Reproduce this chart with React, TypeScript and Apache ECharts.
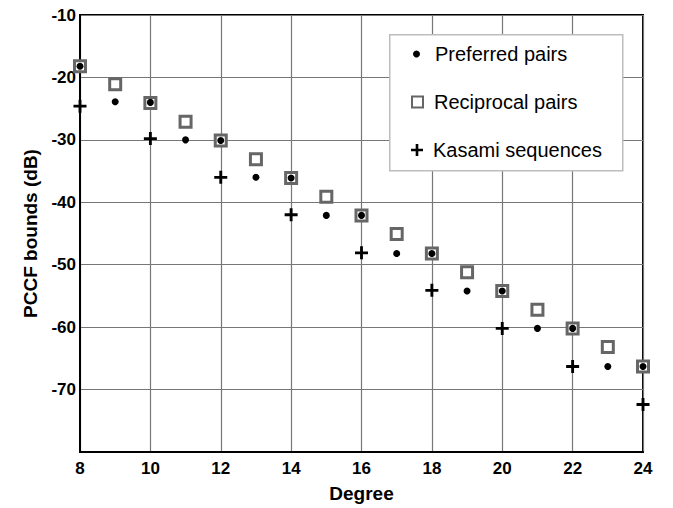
import React, { useEffect, useRef } from "react";
import * as echarts from "echarts";

const degrees = [8, 9, 10, 11, 12, 13, 14, 15, 16, 17, 18, 19, 20, 21, 22, 23, 24];
const preferredPairs = [-18.2, -23.9, -24.0, -30.0, -30.1, -36.0, -36.1, -42.1, -42.1, -48.2, -48.2, -54.2, -54.2, -60.2, -60.2, -66.3, -66.3];
const reciprocalPairs = [-18.2, -21.1, -24.1, -27.1, -30.1, -33.1, -36.1, -39.1, -42.1, -45.1, -48.2, -51.2, -54.2, -57.2, -60.2, -63.2, -66.3];
const kasamiDegrees = [8, 10, 12, 14, 16, 18, 20, 22, 24];
const kasamiSequences = [-24.6, -29.8, -36.0, -42.0, -48.1, -54.1, -60.2, -66.3, -72.4];
const seriesNames = ["Preferred pairs", "Reciprocal pairs", "Kasami sequences"];

const plusPath = "path://M3.9,0H6.1V3.9H10V6.1H6.1V10H3.9V6.1H0V3.9H3.9Z";
const FONT = "Liberation Sans, Arial, sans-serif";

export default function App() {
  const ref = useRef<HTMLDivElement>(null);
  useEffect(() => {
    if (!ref.current) return;
    const chart = echarts.init(ref.current, null, { renderer: "svg" });
    const legendBase = {
      orient: "vertical" as const,
      itemGap: 0,
      z: 10,
      textStyle: { fontFamily: FONT, fontSize: 20, color: "#000" },
      selectedMode: false,
    };
    chart.setOption({
      animation: false,
      backgroundColor: "#fff",
      grid: {
        left: 80,
        right: 30,
        top: 15,
        bottom: 50,
        show: true,
        borderColor: "#000",
        borderWidth: 2,
        backgroundColor: "transparent",
      },
      legend: [
        {
          ...legendBase,
          top: 39,
          left: 408,
          itemWidth: 7,
          itemHeight: 7,
          textStyle: { ...legendBase.textStyle, padding: [0, 0, 0, 10] },
          data: [seriesNames[0]],
        },
        {
          ...legendBase,
          top: 87,
          left: 406,
          itemWidth: 11,
          itemHeight: 11,
          textStyle: { ...legendBase.textStyle, padding: [0, 0, 0, 6] },
          data: [seriesNames[1]],
        },
        {
          ...legendBase,
          top: 135,
          left: 406,
          itemWidth: 12,
          itemHeight: 12,
          textStyle: { ...legendBase.textStyle, padding: [0, 0, 0, 5] },
          data: [seriesNames[2]],
        },
      ],
      graphic: [
        {
          type: "rect",
          left: 389,
          top: 34,
          shape: { width: 233, height: 136 },
          style: { fill: "#fff", stroke: "#bdbdbd", lineWidth: 1.5 },
          z: 5,
        },
      ],
      xAxis: {
        type: "value",
        min: 8,
        max: 24,
        interval: 2,
        name: "Degree",
        nameLocation: "middle",
        nameGap: 32,
        nameTextStyle: { fontFamily: FONT, fontSize: 19, fontWeight: "bold", color: "#000" },
        axisLine: { show: true, lineStyle: { color: "#000", width: 2 } },
        axisTick: { show: false },
        axisLabel: { fontFamily: FONT, fontSize: 17, fontWeight: "bold", color: "#000", margin: 8 },
        splitLine: { show: true, lineStyle: { color: "#777", width: 1.2 } },
      },
      yAxis: {
        type: "value",
        min: -80,
        max: -10,
        interval: 10,
        name: "PCCF bounds (dB)",
        nameLocation: "middle",
        nameGap: 40,
        nameRotate: 90,
        nameTextStyle: { fontFamily: FONT, fontSize: 19, fontWeight: "bold", color: "#000" },
        axisLine: { show: true, lineStyle: { color: "#000", width: 2 } },
        axisTick: { show: false },
        axisLabel: {
          fontFamily: FONT,
          fontSize: 17,
          fontWeight: "bold",
          color: "#000",
          margin: 4,
          formatter: (v: number) => (v === -80 ? "" : String(v)),
        },
        splitLine: { show: true, lineStyle: { color: "#777", width: 1.2 } },
      },
      series: [
        {
          name: seriesNames[1],
          type: "scatter",
          symbol: "rect",
          symbolSize: 11,
          itemStyle: { color: "#fff", borderColor: "#666", borderWidth: 3, opacity: 1 },
          data: degrees.map((d, i) => [d, reciprocalPairs[i]]),
          z: 2,
        },
        {
          name: seriesNames[0],
          type: "scatter",
          symbol: "circle",
          symbolSize: 7,
          itemStyle: { color: "#000", opacity: 1 },
          data: degrees.map((d, i) => [d, preferredPairs[i]]),
          z: 3,
        },
        {
          name: seriesNames[2],
          type: "scatter",
          symbol: plusPath,
          symbolSize: 13,
          itemStyle: { color: "#000", opacity: 1 },
          data: kasamiDegrees.map((d, i) => [d, kasamiSequences[i]]),
          z: 3,
        },
      ],
    });
    return () => chart.dispose();
  }, []);
  return <div ref={ref} style={{ width: 673, height: 508, position: "absolute", left: 0, top: 0 }} />;
}
